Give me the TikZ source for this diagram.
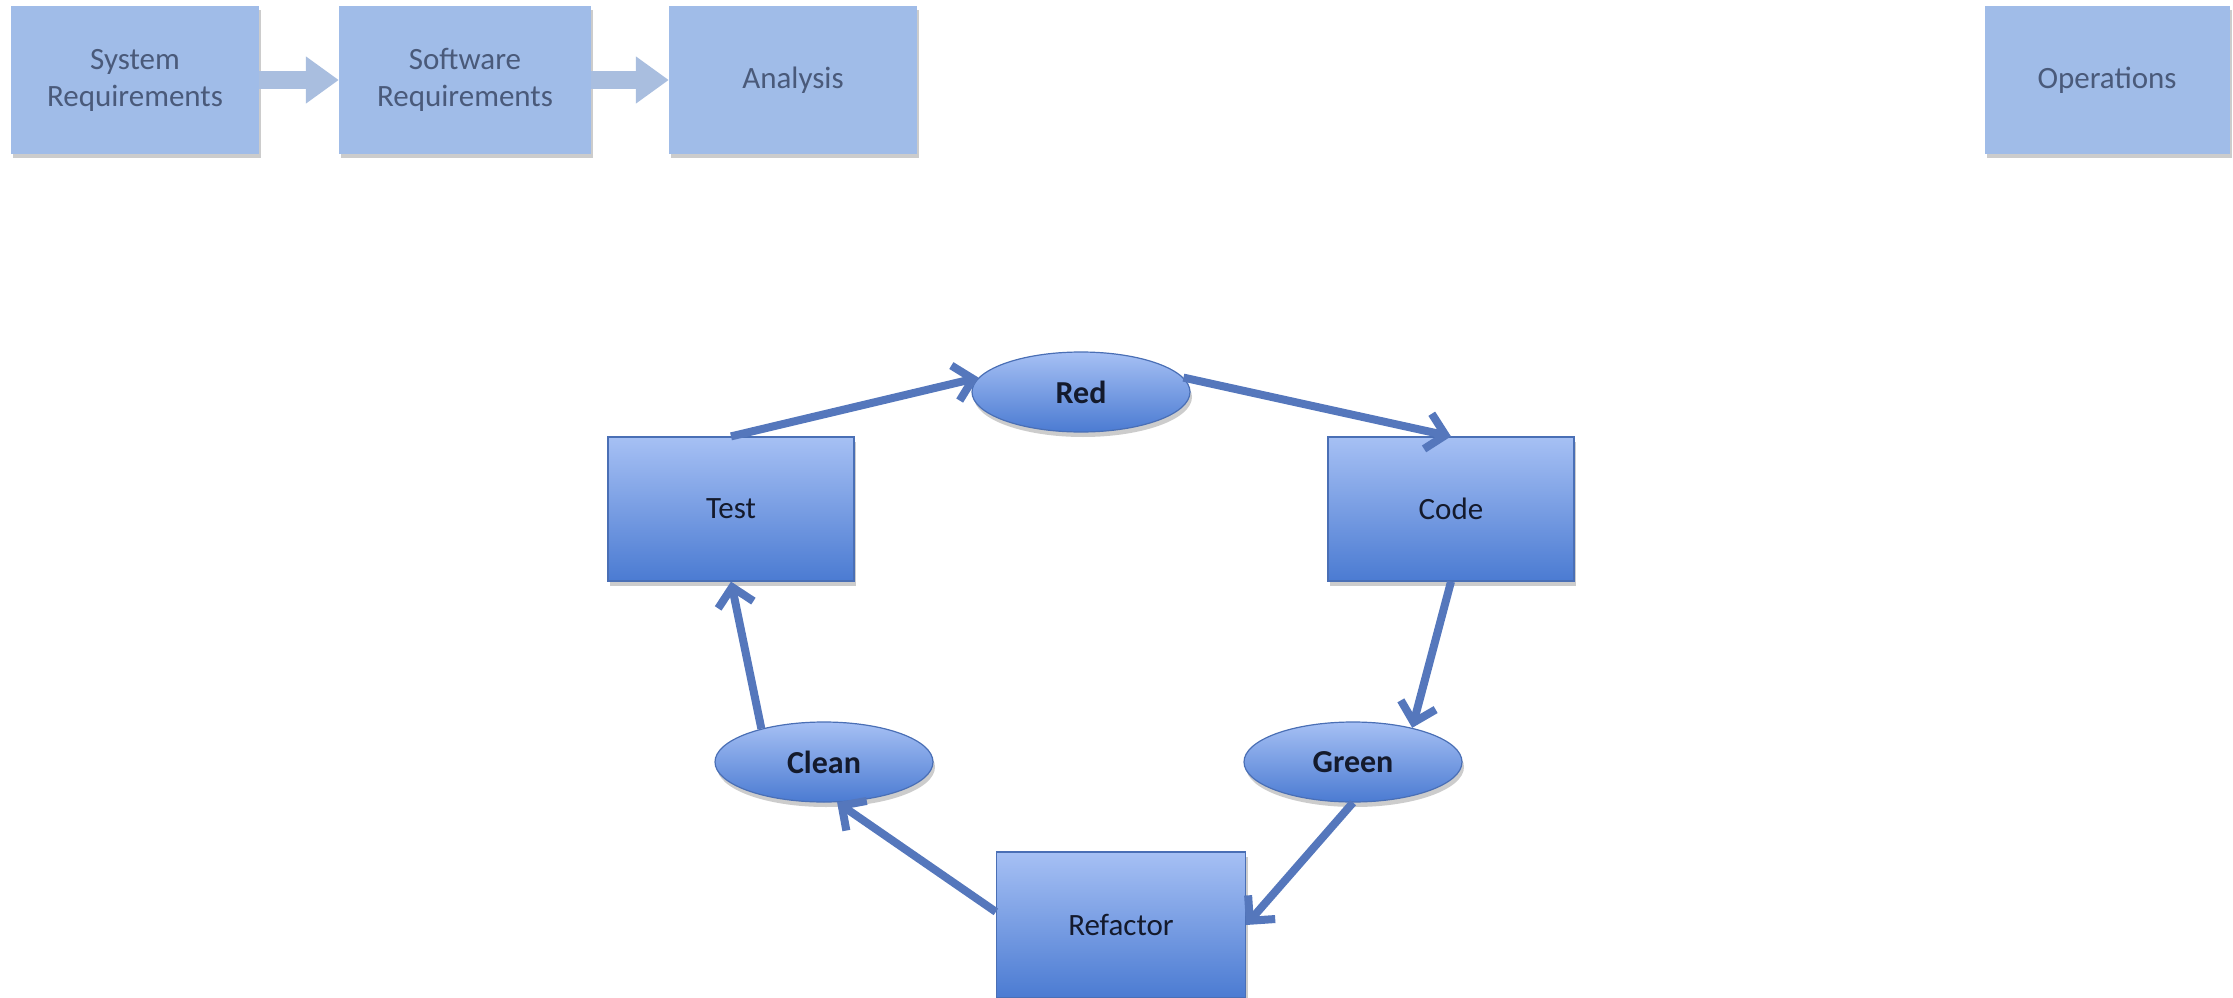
\documentclass[tikz,border=0pt]{standalone}
\usepackage{fontspec}
\setmainfont{Carlito}
\usetikzlibrary{shapes.geometric,arrows.meta,shadows}
\definecolor{topfill}{HTML}{A0BCE8}
\definecolor{toptext}{HTML}{4A5A7A}
\definecolor{toparrow}{HTML}{A9BEDF}
\definecolor{cyctop}{HTML}{A6C0F4}
\definecolor{cycbot}{HTML}{4B7BD2}
\definecolor{cycborder}{HTML}{4A6FB5}
\definecolor{cycarrow}{HTML}{5577BC}
\definecolor{cyctext}{HTML}{141A2C}
\tikzset{
  topbox/.style={rectangle, fill=topfill, text=toptext, minimum height=147pt, inner sep=0pt,
    align=center, font=\fontsize{31}{37}\selectfont,
    drop shadow={shadow xshift=2pt, shadow yshift=-4pt, fill=black, opacity=0.2}},
  toparr/.style={draw=toparrow, line width=18pt, -{Triangle[length=33pt,width=45pt]}},
  cycbox/.style={rectangle, draw=cycborder, line width=1.2pt, top color=cyctop, bottom color=cycbot,
    minimum width=246pt, minimum height=144pt, inner sep=0pt, text=cyctext,
    font=\fontsize{31}{36}\selectfont,
    drop shadow={shadow xshift=2pt, shadow yshift=-5pt, fill=black, opacity=0.2}},
  cycell/.style={ellipse, draw=cycborder, line width=1.2pt, top color=cyctop, bottom color=cycbot,
    minimum width=218pt, minimum height=80pt, inner sep=0pt, text=cyctext,
    font=\fontsize{32}{36}\selectfont\bfseries,
    drop shadow={shadow xshift=2pt, shadow yshift=-5pt, fill=black, opacity=0.2}},
  cycarr/.style={draw=cycarrow, line width=8pt, -{Straight Barb[length=18pt,width=36pt]}}
}
\begin{document}
\begin{tikzpicture}[x=1pt,y=-1pt]
\useasboundingbox (0,0) rectangle (2233,998);
% top row
\node[topbox, minimum width=248pt] (sys) at (135,80) {System\\Requirements};
\node[topbox, minimum width=252pt] (soft) at (465,80) {Software\\Requirements};
\node[topbox, minimum width=248pt] (ana) at (793,80) {Analysis};
\node[topbox, minimum width=245pt] (ops) at (2107,80) {Operations};
\draw[toparr] (sys.east) -- (soft.west);
\draw[toparr] (soft.east) -- (ana.west);
% cycle
\node[cycell] (red) at (1081,392) {Red};
\node[cycbox] (test) at (731,509) {Test};
\node[cycbox] (code) at (1451,509) {Code};
\node[cycell] (green) at (1353,762) {Green};
\node[cycell] (clean) at (824,762) {Clean};
\node[cycbox, minimum width=249pt, minimum height=146pt] (refactor) at (1121,925) {Refactor};
\draw[cycarr] (test.north) -- (red.172);
\draw[cycarr] (red.8) -- (code.north);
\draw[cycarr] (code.south) -- (green.30);
\draw[cycarr] (green.south) -- (refactor.east);
\draw[cycarr] (refactor.174) -- (clean.-72);
\draw[cycarr] (clean.152) -- (test.south);
\end{tikzpicture}
\end{document}
